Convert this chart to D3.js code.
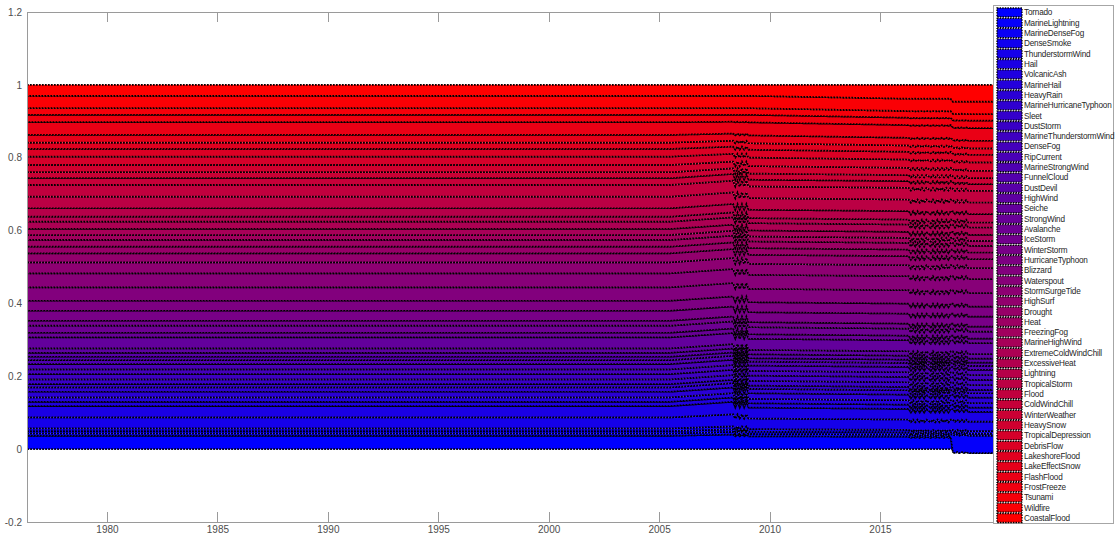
<!DOCTYPE html>
<html><head><meta charset="utf-8">
<script src="https://cdn.jsdelivr.net/npm/d3@7"></script>
<style>
body{margin:0;background:#fff}
svg{display:block}
text{font-family:"Liberation Sans",Arial,Helvetica,sans-serif}
</style>
</head><body>
<svg id="chart" width="1118" height="540"></svg>
<script>
// ---- data ----
const categories = ["Tornado","MarineLightning","MarineDenseFog","DenseSmoke","ThunderstormWind","Hail","VolcanicAsh","MarineHail","HeavyRain","MarineHurricaneTyphoon","Sleet","DustStorm","MarineThunderstormWind","DenseFog","RipCurrent","MarineStrongWind","FunnelCloud","DustDevil","HighWind","Seiche","StrongWind","Avalanche","IceStorm","WinterStorm","HurricaneTyphoon","Blizzard","Waterspout","StormSurgeTide","HighSurf","Drought","Heat","FreezingFog","MarineHighWind","ExtremeColdWindChill","ExcessiveHeat","Lightning","TropicalStorm","Flood","ColdWindChill","WinterWeather","HeavySnow","TropicalDepression","DebrisFlow","LakeshoreFlood","LakeEffectSnow","FlashFlood","FrostFreeze","Tsunami","Wildfire","CoastalFlood"];

// share of each category (same order as categories) at several moments
const shareEarly = [0.0365,0.0066,0.0064,0.0074,0.0302,0.0311,0.0118,0.0121,0.0154,0.0120,0.0091,0.0129,0.0145,0.0130,0.0145,0.0110,0.0091,0.0109,0.0121,0.0303,0.0126,0.0193,0.0137,0.0274,0.0275,0.0368,0.0385,0.0302,0.0247,0.0182,0.0184,0.0137,0.0165,0.0201,0.0137,0.0231,0.0318,0.0322,0.0184,0.0165,0.0200,0.0228,0.0212,0.0173,0.0211,0.0349,0.0201,0.0184,0.0338,0.0302];
const share2008High = [0.0402,0.0073,0.0070,0.0081,0.0332,0.0342,0.0118,0.0121,0.0154,0.0120,0.0091,0.0129,0.0145,0.0130,0.0145,0.0110,0.0091,0.0109,0.0121,0.0303,0.0126,0.0193,0.0137,0.0274,0.0275,0.0368,0.0385,0.0302,0.0247,0.0182,0.0184,0.0137,0.0165,0.0201,0.0137,0.0231,0.0318,0.0322,0.0184,0.0154,0.0186,0.0213,0.0198,0.0161,0.0197,0.0325,0.0187,0.0184,0.0338,0.0302];
const share2008Low = [0.0353,0.0064,0.0062,0.0071,0.0292,0.0300,0.0118,0.0121,0.0154,0.0120,0.0091,0.0129,0.0145,0.0130,0.0145,0.0110,0.0091,0.0109,0.0121,0.0303,0.0126,0.0193,0.0137,0.0274,0.0275,0.0368,0.0385,0.0302,0.0247,0.0182,0.0184,0.0137,0.0165,0.0201,0.0137,0.0231,0.0318,0.0322,0.0184,0.0169,0.0205,0.0233,0.0217,0.0177,0.0216,0.0357,0.0206,0.0184,0.0338,0.0302];
const shareLate = [0.0340,0.0062,0.0060,0.0069,0.0282,0.0290,0.0118,0.0121,0.0154,0.0120,0.0091,0.0129,0.0145,0.0130,0.0145,0.0110,0.0091,0.0109,0.0121,0.0303,0.0126,0.0193,0.0137,0.0274,0.0275,0.0368,0.0385,0.0302,0.0247,0.0182,0.0184,0.0137,0.0165,0.0201,0.0137,0.0231,0.0318,0.0322,0.0184,0.0165,0.0200,0.0228,0.0212,0.0173,0.0211,0.0349,0.0201,0.0184,0.0338,0.0381];
const shareLateDip = [0.0309,0.0056,0.0055,0.0063,0.0256,0.0264,0.0118,0.0121,0.0154,0.0120,0.0091,0.0129,0.0145,0.0130,0.0145,0.0110,0.0091,0.0109,0.0121,0.0303,0.0126,0.0193,0.0137,0.0274,0.0275,0.0368,0.0385,0.0302,0.0247,0.0182,0.0184,0.0137,0.0165,0.0201,0.0137,0.0238,0.0328,0.0332,0.0190,0.0170,0.0206,0.0235,0.0218,0.0178,0.0217,0.0360,0.0207,0.0190,0.0348,0.0381];
const shareEndHigh = [-0.0080,0.0482,0.0059,0.0069,0.0282,0.0290,0.0118,0.0121,0.0154,0.0120,0.0091,0.0129,0.0145,0.0130,0.0145,0.0110,0.0091,0.0109,0.0121,0.0303,0.0126,0.0193,0.0137,0.0274,0.0275,0.0368,0.0385,0.0302,0.0247,0.0182,0.0184,0.0137,0.0165,0.0201,0.0137,0.0225,0.0310,0.0314,0.0180,0.0161,0.0195,0.0223,0.0207,0.0169,0.0206,0.0341,0.0196,0.0180,0.0330,0.0462];
const shareEnd = [-0.0110,0.0483,0.0055,0.0064,0.0261,0.0269,0.0118,0.0121,0.0154,0.0120,0.0091,0.0129,0.0145,0.0130,0.0145,0.0110,0.0091,0.0109,0.0121,0.0303,0.0126,0.0193,0.0137,0.0274,0.0275,0.0368,0.0385,0.0302,0.0247,0.0182,0.0184,0.0137,0.0165,0.0201,0.0137,0.0231,0.0318,0.0322,0.0184,0.0165,0.0200,0.0228,0.0212,0.0173,0.0211,0.0349,0.0201,0.0184,0.0338,0.0462];

const times = [1976.38, 2005.5,
  2008.35, 2008.45, 2008.55, 2008.65, 2008.75, 2008.85, 2008.95, 2009.05,
  2016.30, 2016.40, 2016.50, 2016.60, 2016.70, 2016.80, 2016.90, 2017.00, 2017.10,
  2017.30, 2017.40, 2017.50, 2017.60, 2017.70, 2017.80, 2017.90, 2018.00, 2018.10, 2018.20,
  2018.30, 2018.40, 2018.50, 2018.60, 2018.70, 2018.80, 2018.90, 2019.00, 2020.20];
const snapshots = [shareEarly, shareEarly,
  share2008High, share2008Low, share2008High, share2008Low, share2008High, share2008Low, share2008High, share2008Low,
  shareLate, shareLateDip, shareLate, shareLateDip, shareLate, shareLateDip, shareLate, shareLateDip, shareLate,
  shareLateDip, shareLate, shareLateDip, shareLate, shareLateDip, shareLate, shareLateDip, shareLate, shareLateDip, shareLate,
  shareEndHigh, shareEnd, shareEndHigh, shareEnd, shareEndHigh, shareEnd, shareEndHigh, shareEnd, shareEnd];

const xTicks = [1980,1985,1990,1995,2000,2005,2010,2015];
const yTicks = [-0.2,0,0.2,0.4,0.6,0.8,1,1.2];

// ---- layout ----
const svg = d3.select("#chart");
const L = 27, R = 1113, T = 12, B = 522;
const x = d3.scaleLinear().domain([1976.38, 2025.55]).range([L, R]);
const y = d3.scaleLinear().domain([-0.2, 1.2]).range([B, T]);

const rows = times.map((t, i) => {
  const r = {t};
  categories.forEach((c, k) => r[c] = snapshots[i][k]);
  return r;
});
const stacked = d3.stack().keys(categories).offset(d3.stackOffsetNone)(rows);
const n = categories.length;
const color = i => d3.rgb(Math.round(255 * i / (n - 1)), 0, Math.round(255 * (1 - i / (n - 1))));

svg.append("defs").append("clipPath").attr("id", "clip")
  .append("rect").attr("x", L).attr("y", T).attr("width", R - L).attr("height", B - T);

const area = d3.area().x(d => x(d.data.t)).y0(d => y(d[0])).y1(d => y(d[1]));
const g = svg.append("g").attr("clip-path", "url(#clip)");
g.selectAll("path.layer").data(stacked).join("path")
  .attr("class", "layer")
  .attr("d", d => area(d))
  .attr("fill", (d, i) => color(i))
  .attr("stroke", "#000")
  .attr("stroke-width", 1.7)
  .attr("stroke-dasharray", "1.7,1.3");

// ---- axes ----
const axisCol = "#9a9a9a", txtCol = "#4d4d4d";
svg.append("rect").attr("x", L).attr("y", T).attr("width", R - L).attr("height", B - T)
  .attr("fill", "none").attr("stroke", axisCol).attr("stroke-width", 1).attr("shape-rendering", "crispEdges");

const xb = svg.append("g").attr("transform", `translate(0,${B})`)
  .call(d3.axisBottom(x).tickValues(xTicks).tickFormat(d3.format("d")).tickSizeInner(-10).tickSizeOuter(0).tickPadding(4));
const xt = svg.append("g").attr("transform", `translate(0,${T})`)
  .call(d3.axisTop(x).tickValues(xTicks).tickFormat("").tickSizeInner(-10).tickSizeOuter(0));
const yl = svg.append("g").attr("transform", `translate(${L},0)`)
  .call(d3.axisLeft(y).tickValues(yTicks).tickFormat(d => String(+d.toFixed(1))).tickSizeInner(0).tickSizeOuter(0).tickPadding(5));
[xb, xt, yl].forEach(a => {
  a.select(".domain").remove();
  a.selectAll("line").attr("stroke", axisCol).attr("shape-rendering", "crispEdges");
  a.selectAll("text").attr("fill", txtCol).attr("font-size", 10)
    .attr("font-family", '"Liberation Sans",Arial,sans-serif');
});

// ---- legend ----
const lg = svg.append("g");
const lx = 993, ly = 5, lw = 120, lh = 518;
lg.append("rect").attr("x", lx).attr("y", ly).attr("width", lw).attr("height", lh)
  .attr("fill", "#fff").attr("stroke", "#a6a6a6").attr("shape-rendering", "crispEdges");
const step = (518 - 12.5) / (n - 1);
categories.forEach((c, i) => {
  const cy = 12.5 + i * step;
  lg.append("rect").attr("x", lx + 4).attr("y", cy - 4.5).attr("width", 25).attr("height", 9)
    .attr("fill", color(i)).attr("stroke", "#000").attr("stroke-width", 1.3).attr("stroke-dasharray", "1.5,1.1");
  lg.append("text").attr("x", lx + 31).attr("y", cy).attr("dy", "0.35em")
    .attr("font-size", 8.2).attr("letter-spacing", -0.2).attr("fill", "#262626").text(c);
});
</script>
</body></html>
